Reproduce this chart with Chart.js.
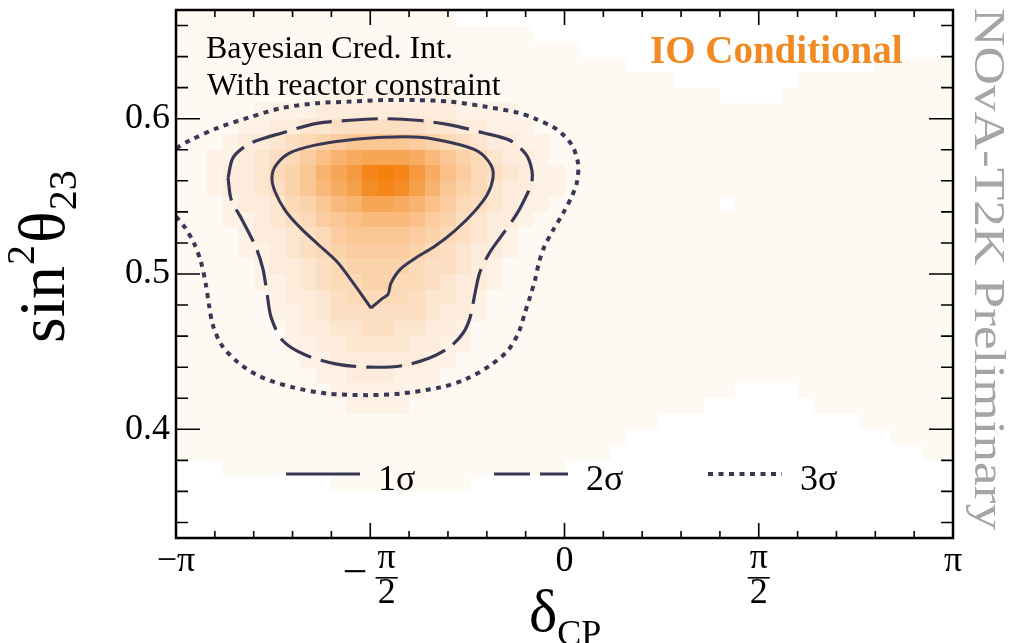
<!DOCTYPE html>
<html>
<head>
<meta charset="utf-8">
<title>NOvA-T2K IO conditional: δCP vs sin²θ23</title>
<script src="https://cdn.jsdelivr.net/npm/chart.js@4.4.1/dist/chart.umd.min.js"></script>
<style>
  html, body { margin: 0; padding: 0; background: #ffffff; }
  canvas { display: block; }
</style>
</head>
<body>
<canvas id="chart" width="1018" height="643"></canvas>
<script>
// ---- Axis ranges (δCP is expressed in units of π) ----
const xRange = [-1, 1];
const yRange = [0.33, 0.67];

// ---- Tick marks and labels ----
const xMajorTicks = [-1, -0.5, 0, 0.5, 1];
const xTickLabels = ['−π', '−π/2', '0', 'π/2', 'π'];
const xMinorTicks = [-0.9, -0.8, -0.7, -0.6, -0.4, -0.3, -0.2, -0.1, 0.1, 0.2, 0.3, 0.4, 0.6, 0.7, 0.8, 0.9];
const yMajorTicks = [0.4, 0.5, 0.6];
const yTickLabels = ['0.4', '0.5', '0.6'];
const yMinorTicks = [0.34, 0.36, 0.38, 0.42, 0.44, 0.46, 0.48, 0.52, 0.54, 0.56, 0.58, 0.62, 0.64, 0.66];

// ---- Posterior density histogram: 50 δCP bins × 34 sin²θ23 bins ----
// Rows run from the highest sin²θ23 bin (0.66–0.67) down to the lowest (0.33–0.34),
// written in groups of ten δCP bins. Each character is a density level 0–20
// ('0' = empty bin, 'a'..'k' = 10..20).
const densityLevels = '0123456789abcdefghijk';
const densityRows = [
  '1111111111 1111111100 0000000000 0000000000 0000000000',
  '1111111111 1111111111 1110000000 0000000000 0000000000',
  '1111111111 1111111111 1111110000 0000000000 0000000000',
  '1111111111 1111111111 1111111110 0000000000 0000011111',
  '1111111111 1111111111 1111111111 1100000000 1111111111',
  '1111111112 2222222211 1111111111 1111100001 1111111111',
  '1111122223 3333333322 2211111111 1111111111 1111111111',
  '1111223344 5555554433 2221111111 1111111111 1111111111',
  '1112334567 8999987654 3322111111 1111111111 1111111111',
  '112234568a cdeeedb976 4332111111 1111111111 1111111111',
  '112334679c egjkjgda86 5432211111 1111111111 1111111111',
  '112334579b dfijifc976 4332211111 1111111111 1111111111',
  '1112334679 bceedca865 4322111111 1111101111 1111111111',
  '1112234568 9abbba8754 3321111111 1111111111 1111111111',
  '1111233456 8999987654 3211111111 1111111111 1111111111',
  '1111223456 7888876543 3211111111 1111111111 1111111111',
  '1111123345 6777765543 2111111111 1111111111 1111111111',
  '1111122345 6677665433 2111111111 1111111111 1111111111',
  '1111112334 5666654432 1111111111 1111111111 1111111111',
  '1111112234 5555554332 1111111111 1111111111 1111111111',
  '1111111233 4455443321 1111111111 1111111111 1111111111',
  '1111111223 3444433221 1111111111 1111111111 1111111111',
  '1111111122 3333332211 1111111111 1111111111 1111111111',
  '1111111112 2333222111 1111111111 1111111111 1111111111',
  '1111111111 2222221111 1111111111 1111110000 1111111111',
  '1111111111 1222211111 1111111111 1111000000 0111111111',
  '1111111111 1111111111 1111111111 1000000000 0000111111',
  '1111111111 1111111111 1111111110 0000000000 0000001111',
  '1111111111 1111111111 1111111100 0000000000 0000000011',
  '0001111111 1111111111 1111100000 0000000000 0000000000',
  '0000000000 1111111110 0000000000 0000000000 0000000000',
  '0000000000 0000000000 0000000000 0000000000 0000000000',
  '0000000000 0000000000 0000000000 0000000000 0000000000',
  '0000000000 0000000000 0000000000 0000000000 0000000000'
].map(r => r.replace(/ /g, ''));

// ---- Credible-interval contours: [δCP/π, sin²θ23] ----
const contour1Sigma = [
  [-0.498, 0.478], [-0.526, 0.488], [-0.552, 0.497], [-0.586, 0.508], [-0.634, 0.519],
  [-0.681, 0.530], [-0.719, 0.541], [-0.745, 0.553], [-0.753, 0.562], [-0.743, 0.570],
  [-0.707, 0.578], [-0.642, 0.583], [-0.565, 0.586], [-0.467, 0.588], [-0.372, 0.588],
  [-0.282, 0.584], [-0.223, 0.579], [-0.189, 0.570], [-0.184, 0.562], [-0.199, 0.551],
  [-0.233, 0.540], [-0.282, 0.528], [-0.333, 0.518], [-0.385, 0.510], [-0.423, 0.503],
  [-0.447, 0.494], [-0.454, 0.487], [-0.470, 0.484], [-0.498, 0.478]
];
const contour2Sigma = [
  [-0.866, 0.562], [-0.853, 0.575], [-0.810, 0.584], [-0.725, 0.591], [-0.637, 0.597],
  [-0.552, 0.599], [-0.467, 0.600], [-0.380, 0.599], [-0.295, 0.596], [-0.210, 0.591],
  [-0.140, 0.586], [-0.099, 0.577], [-0.084, 0.567], [-0.084, 0.559], [-0.097, 0.551],
  [-0.122, 0.539], [-0.158, 0.526], [-0.192, 0.514], [-0.218, 0.501], [-0.230, 0.488],
  [-0.243, 0.472], [-0.261, 0.462], [-0.295, 0.453], [-0.346, 0.446], [-0.416, 0.441],
  [-0.501, 0.440], [-0.586, 0.442], [-0.668, 0.448], [-0.725, 0.457], [-0.755, 0.472],
  [-0.766, 0.488], [-0.776, 0.503], [-0.794, 0.517], [-0.830, 0.535], [-0.858, 0.548],
  [-0.866, 0.562]
];
const contour3Sigma = [
  [-1.000, 0.537], [-0.977, 0.530], [-0.954, 0.520], [-0.936, 0.508], [-0.923, 0.493],
  [-0.915, 0.480], [-0.905, 0.467], [-0.882, 0.454], [-0.840, 0.443], [-0.784, 0.434],
  [-0.699, 0.427], [-0.611, 0.423], [-0.508, 0.422], [-0.423, 0.423], [-0.320, 0.427],
  [-0.256, 0.432], [-0.192, 0.441], [-0.145, 0.451], [-0.117, 0.463], [-0.102, 0.475],
  [-0.089, 0.485], [-0.076, 0.496], [-0.066, 0.507], [-0.053, 0.517], [-0.030, 0.528],
  [-0.004, 0.539], [0.019, 0.550], [0.032, 0.559], [0.035, 0.571], [0.019, 0.583],
  [-0.019, 0.593], [-0.076, 0.600], [-0.122, 0.604], [-0.210, 0.608], [-0.295, 0.611],
  [-0.380, 0.612], [-0.467, 0.612], [-0.552, 0.611], [-0.637, 0.610], [-0.725, 0.607],
  [-0.810, 0.601], [-0.894, 0.594], [-0.964, 0.586], [-1.000, 0.581]
];
const seriesLabels = ['1σ', '2σ', '3σ'];

// ---- Styling ----
const SERIF = '"Liberation Serif", "Times New Roman", serif';
const INK = 'rgb(56,56,84)';
const PEAK = [244, 128, 14];

function densityColor(level) {
  const t = level / 20;
  const c = PEAK.map(v => Math.round(255 + (v - 255) * t));
  return `rgb(${c[0]},${c[1]},${c[2]})`;
}
const isIn = (list, v) => list.some(m => Math.abs(m - v) < 1e-9);
const toPoints = arr => arr.map(([dx, s]) => ({ x: dx, y: s }));

// Filled density bins, placed through the chart's own scales
const densityMap = {
  id: 'densityMap',
  beforeDatasetsDraw(chart) {
    const { ctx, chartArea: a, scales: { x, y } } = chart;
    const ny = densityRows.length, nx = densityRows[0].length;
    const bx = (xRange[1] - xRange[0]) / nx, by = (yRange[1] - yRange[0]) / ny;
    ctx.save();
    ctx.beginPath();
    ctx.rect(a.left, a.top, a.width, a.height);
    ctx.clip();
    for (let i = 0; i < ny; i++) {
      const yTop = Math.round(y.getPixelForValue(yRange[1] - i * by));
      const yBot = Math.round(y.getPixelForValue(yRange[1] - (i + 1) * by));
      for (let j = 0; j < nx; j++) {
        const level = densityLevels.indexOf(densityRows[i][j]);
        if (level <= 0) continue;
        const xL = Math.round(x.getPixelForValue(xRange[0] + j * bx));
        const xR = Math.round(x.getPixelForValue(xRange[0] + (j + 1) * bx));
        ctx.fillStyle = densityColor(level);
        ctx.fillRect(xL, yTop, xR - xL, yBot - yTop);
      }
    }
    ctx.restore();
  }
};

// Frame, inward ticks, fraction tick labels, axis titles, legend and annotations
const frameAndLabels = {
  id: 'frameAndLabels',
  afterDraw(chart) {
    const { ctx, chartArea: a, scales: { x, y } } = chart;
    ctx.save();

    ctx.strokeStyle = '#000';
    ctx.lineWidth = 1.6;
    ctx.beginPath();
    x.ticks.forEach(t => {
      const p = x.getPixelForValue(t.value);
      const len = isIn(xMajorTicks, t.value) ? 15 : 7;
      ctx.moveTo(p, a.bottom); ctx.lineTo(p, a.bottom - len);
      ctx.moveTo(p, a.top); ctx.lineTo(p, a.top + len);
    });
    y.ticks.forEach(t => {
      const p = y.getPixelForValue(t.value);
      const len = isIn(yMajorTicks, t.value) ? 24 : 12;
      ctx.moveTo(a.left, p); ctx.lineTo(a.left + len, p);
      ctx.moveTo(a.right, p); ctx.lineTo(a.right - len, p);
    });
    ctx.stroke();
    ctx.lineWidth = 2.5;
    ctx.strokeRect(a.left, a.top, a.width, a.height);

    // x tick labels (with stacked fractions)
    ctx.fillStyle = '#000';
    ctx.textBaseline = 'alphabetic';
    xMajorTicks.forEach((v, k) => {
      const lab = xTickLabels[k];
      const p = x.getPixelForValue(v);
      ctx.font = `36px ${SERIF}`;
      if (lab.includes('/')) {
        let sign = '', body = lab;
        if (body.startsWith('−')) { sign = '−'; body = body.slice(1); }
        const [num, den] = body.split('/');
        const fracW = Math.max(ctx.measureText(num).width, ctx.measureText(den).width) + 4;
        ctx.font = `44px ${SERIF}`;
        const signW = sign ? ctx.measureText(sign).width + 8 : 0;
        ctx.font = `36px ${SERIF}`;
        const left = p - (signW + fracW) / 2;
        const fc = left + signW + fracW / 2;
        ctx.textAlign = 'center';
        ctx.fillText(num, fc, a.bottom + 30);
        ctx.fillText(den, fc, a.bottom + 65);
        ctx.fillRect(fc - fracW / 2, a.bottom + 39, fracW, 1.6);
        if (sign) {
          ctx.textAlign = 'left';
          ctx.font = `44px ${SERIF}`;
          ctx.fillText(sign, left, a.bottom + 48);
        }
      } else {
        ctx.textAlign = 'center';
        ctx.fillText(lab, p, a.bottom + 33);
      }
    });

    // x axis title: δ_CP
    ctx.textAlign = 'left';
    ctx.font = `60px ${SERIF}`;
    ctx.fillText('δ', 529, 631);
    const dW = ctx.measureText('δ').width;
    ctx.font = `36px ${SERIF}`;
    ctx.fillText('CP', 529 + dW, 645);

    // y axis title: sin²θ23
    ctx.save();
    ctx.translate(64, 343);
    ctx.rotate(-Math.PI / 2);
    let cx = 0;
    ctx.font = `66px ${SERIF}`;
    ctx.fillText('sin', cx, 0); cx += ctx.measureText('sin').width;
    ctx.font = `40px ${SERIF}`;
    ctx.fillText('2', cx + 1, -30); cx += ctx.measureText('2').width + 3;
    ctx.font = `66px ${SERIF}`;
    ctx.fillText('θ', cx, 0); cx += ctx.measureText('θ').width;
    ctx.font = `40px ${SERIF}`;
    ctx.fillText('23', cx + 1, 12);
    ctx.restore();

    // annotations inside the frame
    ctx.fillStyle = '#000';
    ctx.font = `32px ${SERIF}`;
    ctx.fillText('Bayesian Cred. Int.', a.left + 30, a.top + 48);
    ctx.fillText('With reactor constraint', a.left + 31, a.top + 85);
    ctx.fillStyle = 'rgb(242,138,36)';
    ctx.font = `bold 39px ${SERIF}`;
    ctx.fillText('IO Conditional', 650, a.top + 53);

    // legend
    const legendY = a.bottom - 64;
    const legendX = [110, 318, 532];
    chart.data.datasets.forEach((ds, i) => {
      const x0 = a.left + legendX[i];
      ctx.save();
      ctx.strokeStyle = ds.borderColor;
      ctx.lineWidth = ds.borderWidth;
      ctx.setLineDash(ds.borderDash || []);
      ctx.beginPath();
      ctx.moveTo(x0, legendY);
      ctx.lineTo(x0 + 74, legendY);
      ctx.stroke();
      ctx.restore();
      ctx.fillStyle = '#000';
      ctx.font = `36px ${SERIF}`;
      ctx.fillText(ds.label, x0 + 92, legendY + 16);
    });

    // collaboration label along the right edge
    ctx.save();
    ctx.translate(975, 8);
    ctx.rotate(Math.PI / 2);
    ctx.font = `44px ${SERIF}`;
    const tag = 'NOvA-T2K Preliminary';
    const w = ctx.measureText(tag).width;
    ctx.scale(522 / w, 1);
    ctx.fillStyle = 'rgb(165,165,165)';
    ctx.textAlign = 'left';
    ctx.fillText(tag, 0, 0);
    ctx.restore();

    ctx.restore();
  }
};

const contourStyles = [
  { borderWidth: 3, borderDash: [] },
  { borderWidth: 3.2, borderDash: [36, 10] },
  { borderWidth: 4, borderDash: [5, 5.5] }
];
const contours = [contour1Sigma, contour2Sigma, contour3Sigma];

new Chart(document.getElementById('chart'), {
  type: 'scatter',
  data: {
    datasets: contours.map((c, i) => ({
      label: seriesLabels[i],
      data: toPoints(c),
      showLine: true,
      fill: false,
      pointRadius: 0,
      pointHoverRadius: 0,
      tension: 0.3,
      borderColor: INK,
      borderWidth: contourStyles[i].borderWidth,
      borderDash: contourStyles[i].borderDash
    }))
  },
  options: {
    responsive: false,
    maintainAspectRatio: false,
    devicePixelRatio: 1,
    animation: false,
    events: [],
    layout: { padding: { top: 10, right: 65, left: 0, bottom: 0 } },
    plugins: { legend: { display: false }, tooltip: { enabled: false } },
    scales: {
      x: {
        type: 'linear',
        min: xRange[0],
        max: xRange[1],
        grid: { display: false },
        border: { display: false },
        ticks: { display: false },
        afterBuildTicks: s => {
          s.ticks = [...xMajorTicks, ...xMinorTicks].sort((p, q) => p - q).map(v => ({ value: v }));
        },
        afterFit: s => {
          s.height = 105;
          s.paddingLeft = 0; s.paddingRight = 0;
        }
      },
      y: {
        type: 'linear',
        min: yRange[0],
        max: yRange[1],
        grid: { display: false, drawTicks: false },
        border: { display: false },
        ticks: {
          autoSkip: false,
          padding: 6,
          color: '#000',
          font: { family: SERIF, size: 36 },
          callback: v => {
            const k = yMajorTicks.findIndex(m => Math.abs(m - v) < 1e-9);
            return k >= 0 ? yTickLabels[k] : '';
          }
        },
        afterBuildTicks: s => {
          s.ticks = [...yMajorTicks, ...yMinorTicks].sort((p, q) => p - q).map(v => ({ value: v }));
        },
        afterFit: s => {
          s.width = 176;
          s.paddingTop = 0; s.paddingBottom = 0;
        }
      }
    }
  },
  plugins: [densityMap, frameAndLabels]
});
</script>
</body>
</html>
